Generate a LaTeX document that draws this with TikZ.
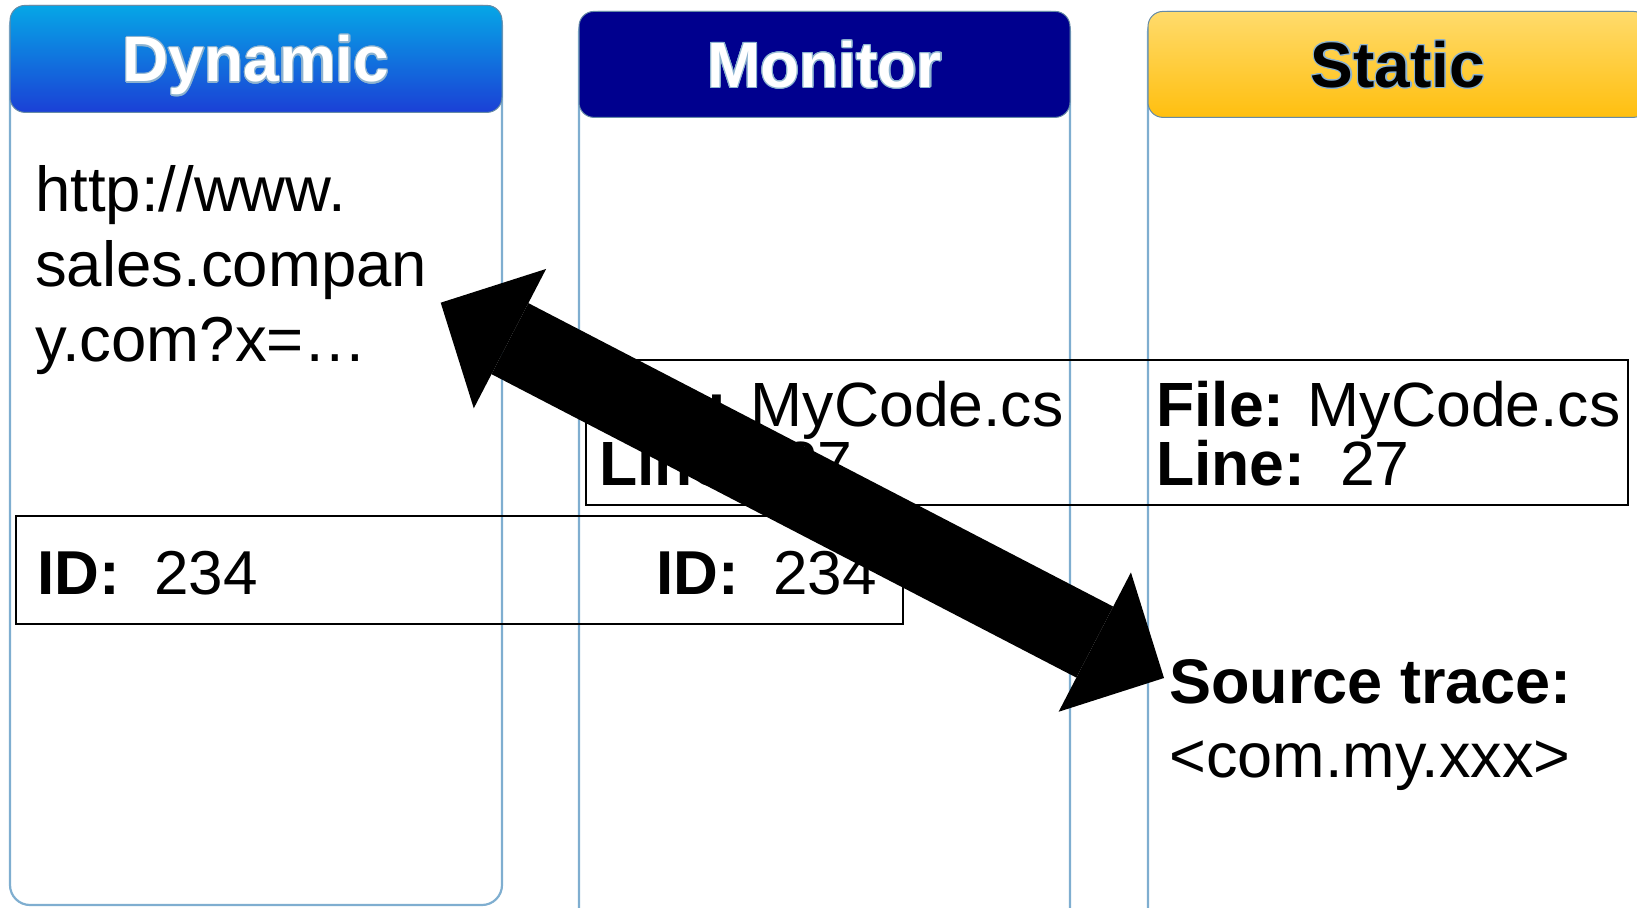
\documentclass[tikz,border=0pt]{standalone}
\usepackage{fontspec}
\setmainfont{Liberation Sans}
\usepackage{contour}
\contourlength{1.2pt}
\usetikzlibrary{positioning,arrows.meta}
\definecolor{colframe}{HTML}{7FAED0}
\definecolor{dyntop}{HTML}{06A6E6}
\definecolor{dynbot}{HTML}{1B40D6}
\definecolor{monfill}{HTML}{00008E}
\definecolor{stattop}{HTML}{FFDB6C}
\definecolor{statbot}{HTML}{FFBF0F}
\definecolor{glow}{HTML}{8DB3D0}

\begin{document}
\begin{tikzpicture}[x=1pt, y=-1pt,
    column/.style={draw=colframe, line width=2.2pt, rounded corners=20pt, inner sep=0pt},
    header/.style={draw=colframe!80!black, line width=1pt, rounded corners=15pt, inner sep=0pt,
      font=\fontsize{64}{64}\selectfont\bfseries, text height=46pt, text depth=0pt},
    infobox/.style={draw=black, line width=1.5pt, inner sep=0pt},
    bodytext/.style={inner sep=0pt, align=left, anchor=base west},
    bigarrow/.style={line width=80pt,
      {Triangle[length=78pt,width=157pt,line width=0pt]}-{Triangle[length=78pt,width=157pt,line width=0pt]}}]
    \useasboundingbox (0,0) rectangle (1637,907);
    % three columns
    \node[column, minimum width=492pt, minimum height=899pt] (dyncol) at (256,455.5) {};
    \node[column, minimum width=491pt, minimum height=940pt] (moncol) at (824.5,482) {};
    \node[column, minimum width=500pt, minimum height=940pt] (statcol) at (1398,482) {};
    \node[header, top color=dyntop, bottom color=dynbot, text=white, minimum width=492pt,
      minimum height=107pt, anchor=north] (dynhead) at (dyncol.north) {\contour{glow}{Dynamic}};
    \node[header, fill=monfill, text=white, minimum width=491pt,
      minimum height=106pt, anchor=north] (monhead) at (moncol.north) {\contour{glow}{Monitor}};
    \node[header, top color=stattop, bottom color=statbot, text=black, minimum width=500pt,
      minimum height=106pt, anchor=north] (stathead) at (statcol.north) {\contour{glow}{Static}};
    % shared boxes (text anchored at the baseline of its last line)
    \node[infobox, minimum width=1042pt, minimum height=145pt] (filebox) at (1107,432.5) {};
    \node[infobox, minimum width=887pt, minimum height=108pt] (idbox) at (459.5,570) {};
    \node[bodytext, font=\fontsize{63.5}{75}\selectfont] (url) at (35,361.7) {http://www.\\sales.compan\\y.com?x=…};
    \node[bodytext, font=\fontsize{62.5}{59}\selectfont] (monfile) at (599,485) {\textbf{File:} MyCode.cs\\\textbf{Line:}\ \ 27};
    \node[bodytext, font=\fontsize{62.5}{59}\selectfont] (statfile) at (1156,485) {\textbf{File:} MyCode.cs\\\textbf{Line:}\ \ 27};
    \node[bodytext, font=\fontsize{62}{62}\selectfont] (dynid) at (37,594) {\textbf{ID:}\ \ 234};
    \node[bodytext, font=\fontsize{62}{62}\selectfont] (monid) at (656,594) {\textbf{ID:}\ \ 234};
    \node[bodytext, font=\fontsize{63}{74}\selectfont] (srctrace) at (1169,777) {\textbf{Source trace:}\\\textless com.my.xxx\textgreater};
    % link between the two views
    \coordinate (urltip) at (440.7,302.7);
    \coordinate (srctip) at (1164,678);
    \draw[bigarrow] (urltip) -- (srctip);
\end{tikzpicture}
\end{document}
